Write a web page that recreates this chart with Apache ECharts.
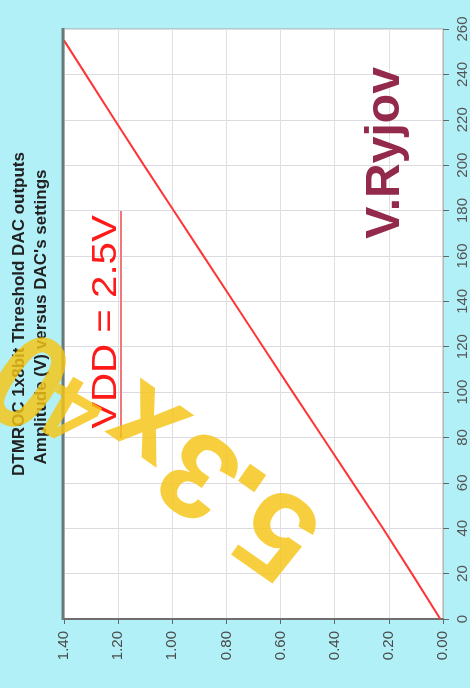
<!DOCTYPE html>
<html>
<head>
<meta charset="utf-8">
<script src="https://cdn.jsdelivr.net/npm/echarts@6/dist/echarts.min.js"></script>
<style>
html,body{margin:0;padding:0;background:#b2f0f7;}
#c{width:470px;height:688px;}
</style>
</head>
<body>
<div id="c"></div>
<script>
// DAC settings (x of original chart) and measured amplitude in volts
var dacSettings = [0, 20, 40, 60, 80, 100, 120, 140, 160, 180, 200, 220, 240, 255];
var amplitudeV  = [0.01, 0.115, 0.222, 0.333, 0.444, 0.555, 0.665, 0.775, 0.885, 0.995, 1.105, 1.213, 1.32, 1.40];
var titleLines = ["DTMROC 1x8bit Threshold DAC outputs", "Amplitude (V) versus DAC's settings"];
var ampTicks = {min: 0, max: 1.4, interval: 0.2};
var dacTicks = {min: 0, max: 260, interval: 20};

var seriesData = dacSettings.map(function (d, i) { return [amplitudeV[i], d]; });

var chart = echarts.init(document.getElementById('c'));
var deg = Math.PI / 180;
var yellow = 'rgba(245,196,20,0.82)';
function wm(ch, x, y, rot, size, sx) {
  return {
    type: 'text', x: x, y: y, rotation: rot * deg, scaleX: sx || 1, z: 100,
    style: {
      text: ch, fill: yellow,
      font: 'bold ' + (size || 110) + 'px "Liberation Sans", Arial, sans-serif',
      textAlign: 'center', textVerticalAlign: 'middle'
    }
  };
}

chart.setOption({
  backgroundColor: '#b2f0f7',
  animation: false,
  grid: {
    left: 64, right: 27, top: 29, bottom: 69,
    show: true, backgroundColor: '#ffffff', borderColor: '#a8a8a8', borderWidth: 1
  },
  xAxis: {
    type: 'value', position: 'bottom', inverse: true,
    min: ampTicks.min, max: ampTicks.max, interval: ampTicks.interval,
    axisLine: {show: true, lineStyle: {color: '#6e6e6e', width: 2}},
    axisTick: {show: true, length: 5, lineStyle: {color: '#666'}},
    axisLabel: {
      rotate: 90, margin: 12, color: '#4a4a4a', fontSize: 15,
      fontFamily: '"Liberation Sans", Arial, sans-serif',
      formatter: function (v) { return v.toFixed(2); }
    },
    splitLine: {show: true, lineStyle: {color: '#e0e0e0', width: 1}}
  },
  yAxis: {
    type: 'value', position: 'right',
    min: dacTicks.min, max: dacTicks.max, interval: dacTicks.interval,
    axisLine: {show: true, onZero: false, lineStyle: {color: '#b8b8b8', width: 1}},
    axisTick: {show: true, length: 6, lineStyle: {color: '#666'}},
    axisLabel: {
      rotate: 90, margin: 12, color: '#555', fontSize: 15,
      fontFamily: '"Liberation Sans", Arial, sans-serif'
    },
    splitLine: {show: true, lineStyle: {color: '#dadae0', width: 1}}
  },
  series: [{
    type: 'line', data: seriesData, showSymbol: false, symbol: 'none',
    lineStyle: {color: '#ff3535', width: 2}, z: 5
  }],
  graphic: [
    // dark left border of plot
    {type: 'line', z: 10, shape: {x1: 63, y1: 28, x2: 63, y2: 620},
     style: {stroke: '#6a7a7a', lineWidth: 3}},
    // title
    {type: 'text', x: 19, y: 314, rotation: 90 * deg, z: 20,
     style: {text: titleLines[0], fill: '#222', font: 'bold 17px "Liberation Sans", Arial, sans-serif',
             textAlign: 'center', textVerticalAlign: 'middle'}},
    {type: 'text', x: 41, y: 317, rotation: 90 * deg, z: 20,
     style: {text: titleLines[1], fill: '#222', font: 'bold 17px "Liberation Sans", Arial, sans-serif',
             textAlign: 'center', textVerticalAlign: 'middle'}},
    // VDD label
    {type: 'text', x: 106, y: 322, rotation: 90 * deg, scaleX: 1.15, z: 30,
     style: {text: 'VDD = 2.5V', fill: '#ff1a1a', font: '35px "Liberation Sans", Arial, sans-serif',
             textAlign: 'center', textVerticalAlign: 'middle'}},
    {type: 'line', z: 30, shape: {x1: 121, y1: 211, x2: 121, y2: 438},
     style: {stroke: '#f07878', lineWidth: 2}},
    // author
    {type: 'text', x: 386, y: 153, rotation: 90 * deg, z: 30,
     style: {text: 'V.Ryjov', fill: '#93294b', font: 'bold 48px "Liberation Sans", Arial, sans-serif',
             textAlign: 'center', textVerticalAlign: 'middle'}},
    // yellow watermark
    wm('5', 281, 528, 145, 122),
    wm('.', 236, 501, 145, 140),
    wm('3', 203, 470, 145, 120),
    wm('x', 148, 424, 145, 122),
    wm('4', 75, 407, 150, 92),
    wm('0', 33, 374, 145, 138, 0.85)
  ]
});
</script>
</body>
</html>
